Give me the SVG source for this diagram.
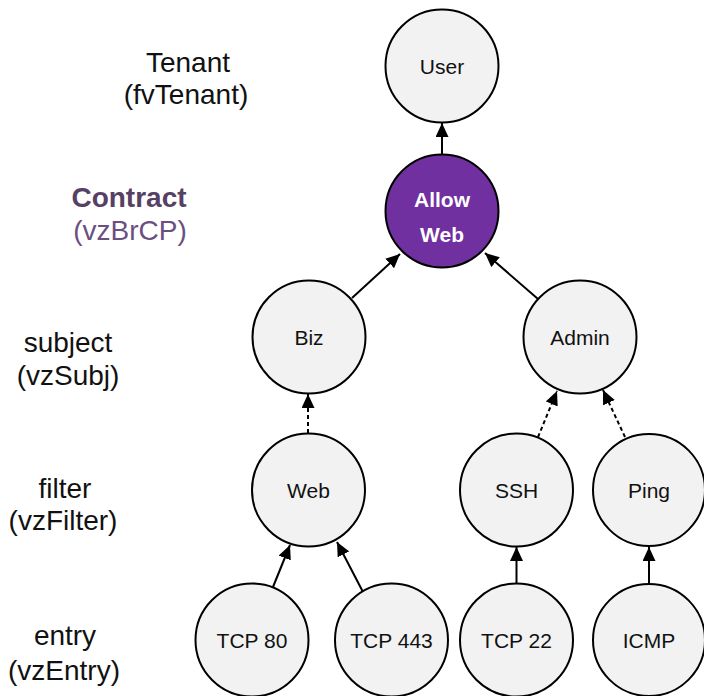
<svg xmlns="http://www.w3.org/2000/svg" width="704" height="696" viewBox="0 0 704 696">
  <style>
    .node { fill: #f2f2f2; stroke: #000; stroke-width: 2; }
    .hot { fill: #7030a0; stroke: #000; stroke-width: 2; }
    .lbl { font-family: "Liberation Sans", Arial, sans-serif; font-size: 21px; fill: #111; text-anchor: middle; }
    .hotlbl { font-family: "Liberation Sans", Arial, sans-serif; font-size: 21px; font-weight: bold; fill: #fff; text-anchor: middle; }
    .side { font-family: "Liberation Sans", Arial, sans-serif; font-size: 28px; fill: #111; text-anchor: middle; }
    .edge { stroke: #000; stroke-width: 2; fill: none; }
    .dot { stroke-dasharray: 4 3; }
  </style>
  <defs>
    <marker id="arrow" markerUnits="userSpaceOnUse" markerWidth="15" markerHeight="13" refX="14" refY="6.5" orient="auto">
      <path d="M0,0 L14,6.5 L0,13 z" fill="#000"/>
    </marker>
  </defs>
  <rect width="704" height="696" fill="#fff"/>

  <!-- level captions -->
  <g id="captions">
    <text class="side" x="188" y="72">Tenant</text>
    <text class="side" x="186" y="104">(fvTenant)</text>
    <text class="side" x="129" y="207" style="font-weight:bold;fill:#574065">Contract</text>
    <text class="side" x="130" y="240" style="fill:#6a4f80">(vzBrCP)</text>
    <text class="side" x="68" y="352">subject</text>
    <text class="side" x="68" y="385">(vzSubj)</text>
    <text class="side" x="65" y="498">filter</text>
    <text class="side" x="63" y="530">(vzFilter)</text>
    <text class="side" x="65" y="645">entry</text>
    <text class="side" x="64" y="680">(vzEntry)</text>
  </g>

  <!-- connectors -->
  <g id="connectors">
    <line class="edge" x1="442" y1="155" x2="442" y2="123" marker-end="url(#arrow)"/>
    <line class="edge" x1="352" y1="298" x2="400" y2="254" marker-end="url(#arrow)"/>
    <line class="edge" x1="538" y1="299" x2="485" y2="253" marker-end="url(#arrow)"/>
    <line class="edge dot" x1="308" y1="433" x2="308" y2="394" marker-end="url(#arrow)"/>
    <line class="edge dot" x1="538" y1="437" x2="557" y2="391" marker-end="url(#arrow)"/>
    <line class="edge dot" x1="625" y1="437" x2="603" y2="390" marker-end="url(#arrow)"/>
    <line class="edge" x1="273" y1="587" x2="290" y2="545" marker-end="url(#arrow)"/>
    <line class="edge" x1="363" y1="592" x2="337" y2="542" marker-end="url(#arrow)"/>
    <line class="edge" x1="516.5" y1="584" x2="516.5" y2="547" marker-end="url(#arrow)"/>
    <line class="edge" x1="649" y1="584" x2="649" y2="547" marker-end="url(#arrow)"/>
  </g>

  <g id="user"><circle class="node" cx="442" cy="66" r="56.5"/><text class="lbl" x="442" y="74">User</text></g>
  <g id="allow-web"><circle class="hot" cx="442" cy="211" r="56.5"/><text class="hotlbl" x="442" y="207">Allow</text><text class="hotlbl" x="442" y="242">Web</text></g>
  <g id="biz"><circle class="node" cx="309" cy="337" r="56.5"/><text class="lbl" x="309" y="345">Biz</text></g>
  <g id="admin"><circle class="node" cx="580" cy="337" r="56.5"/><text class="lbl" x="580" y="345">Admin</text></g>
  <g id="web"><circle class="node" cx="308.5" cy="490" r="56.5"/><text class="lbl" x="308.5" y="498">Web</text></g>
  <g id="ssh"><circle class="node" cx="516.5" cy="490" r="56.5"/><text class="lbl" x="516.5" y="498">SSH</text></g>
  <g id="ping"><circle class="node" cx="649" cy="490" r="56"/><text class="lbl" x="649" y="498">Ping</text></g>
  <g id="tcp80"><circle class="node" cx="252" cy="640" r="56.5"/><text class="lbl" x="252" y="648">TCP 80</text></g>
  <g id="tcp443"><circle class="node" cx="391.5" cy="640" r="56.5"/><text class="lbl" x="391.5" y="648">TCP 443</text></g>
  <g id="tcp22"><circle class="node" cx="516.5" cy="640" r="56.5"/><text class="lbl" x="516.5" y="648">TCP 22</text></g>
  <g id="icmp"><circle class="node" cx="649" cy="640" r="56"/><text class="lbl" x="649" y="648">ICMP</text></g>
</svg>
